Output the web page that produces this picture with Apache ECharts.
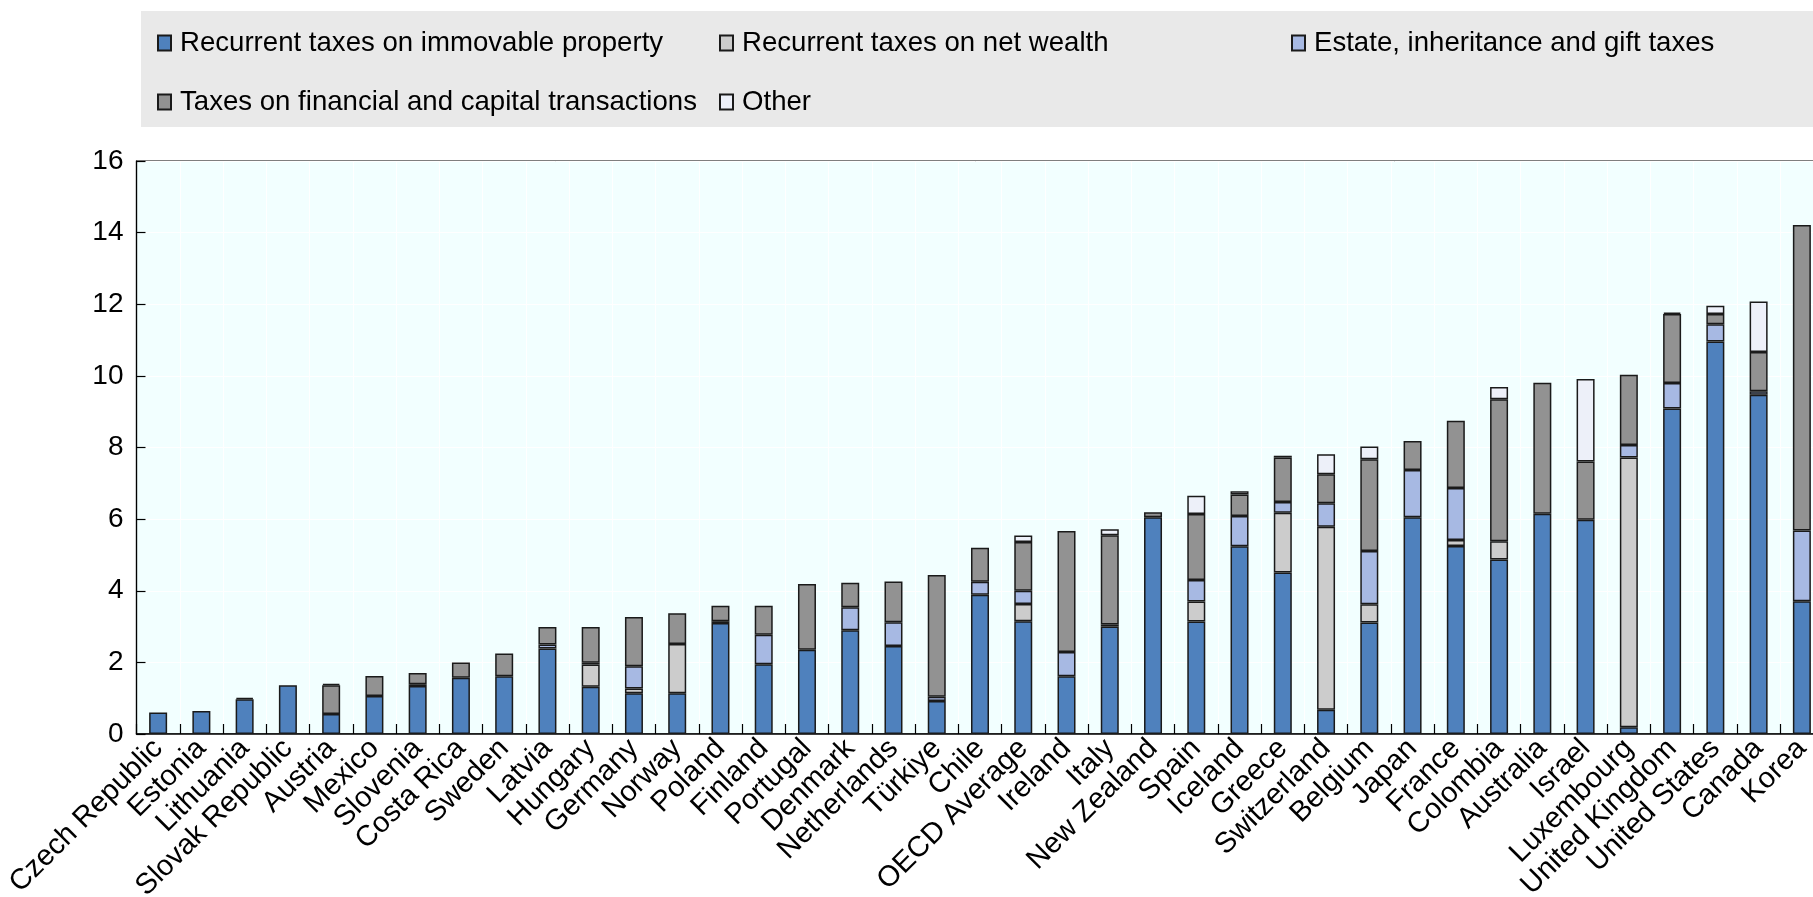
<!DOCTYPE html>
<html>
<head>
<meta charset="utf-8">
<script src="https://cdn.jsdelivr.net/npm/echarts@6/dist/echarts.min.js"></script>
<style>
html,body{margin:0;padding:0;background:#fff;}
#chart{width:1813px;height:897px;}
</style>
</head>
<body>
<div id="chart"></div>
<script>
const categories = ["Czech Republic","Estonia","Lithuania","Slovak Republic","Austria","Mexico","Slovenia","Costa Rica","Sweden","Latvia","Hungary","Germany","Norway","Poland","Finland","Portugal","Denmark","Netherlands","Türkiye","Chile","OECD Average","Ireland","Italy","New Zealand","Spain","Iceland","Greece","Switzerland","Belgium","Japan","France","Colombia","Australia","Israel","Luxembourg","United Kingdom","United States","Canada","Korea"];

const seriesNames = ["Recurrent taxes on immovable property","Recurrent taxes on net wealth","Estate, inheritance and gift taxes","Taxes on financial and capital transactions","Other"];

const immovable = [0.60,0.64,0.97,1.36,0.56,1.06,1.34,1.57,1.61,2.39,1.32,1.14,1.14,3.10,1.95,2.35,2.90,2.46,0.92,3.89,3.15,1.61,3.00,6.05,3.14,5.24,4.51,0.68,3.11,6.05,5.25,4.87,6.15,5.98,0.19,9.09,10.96,9.47,3.71];
const netWealth = [0,0,0,0,0,0,0,0,0,0,0.62,0.13,1.37,0,0,0,0,0,0,0,0.48,0,0,0,0.56,0,1.67,5.11,0.51,0,0.17,0.51,0,0,7.53,0,0,0,0];
const estate = [0,0,0,0,0,0,0.05,0,0,0.11,0.05,0.62,0,0.05,0.82,0,0.64,0.66,0.12,0.36,0.37,0.68,0.06,0,0.60,0.85,0.30,0.65,1.49,1.32,1.45,0,0,0,0.35,0.71,0.48,0.10,1.97];
const transactions = [0,0,0.04,0,0.80,0.56,0.31,0.43,0.64,0.49,1.00,1.38,0.86,0.43,0.81,1.84,0.68,1.14,3.40,0.95,1.36,3.38,2.49,0.14,1.84,0.60,1.24,0.81,2.56,0.81,1.88,3.97,3.66,1.63,1.96,1.93,0.29,1.10,8.53];
const other = [0,0,0,0,0.04,0,0,0,0,0,0,0,0,0,0,0,0,0,0,0,0.18,0,0.17,0,0.51,0.09,0.05,0.56,0.36,0,0,0.34,0,2.30,0,0.04,0.23,1.41,0];

const yTicks = [0,2,4,6,8,10,12,14,16];

const colors = ["#4F81BD","#CCCCCC","#A7B9E3","#929292","#EDF0F9"];
const dataSets = [immovable, netWealth, estate, transactions, other];

const FONT = "'Liberation Sans', Arial, sans-serif";

const chart = echarts.init(document.getElementById('chart'), null, {renderer:'canvas'});

const series = seriesNames.map((name, k) => ({
  name: name,
  type: 'bar',
  stack: 'total',
  barWidth: 18,
  data: dataSets[k].map(v => v === 0 ? '-' : v),
  itemStyle: { color: colors[k], borderColor: '#1a1a1a', borderWidth: 1.5 },
  emphasis: { disabled: true },
  animation: false
}));

const legendPos = [
  {left: 157, top: 29},
  {left: 719, top: 29},
  {left: 1291, top: 29},
  {left: 157, top: 88},
  {left: 719, top: 88}
];

const legends = seriesNames.map((name, k) => ({
  data: [name],
  left: legendPos[k].left,
  top: legendPos[k].top,
  orient: 'horizontal',
  itemWidth: 13,
  itemHeight: 15,
  itemGap: 0,
  selectedMode: false,
  padding: 0,
  icon: 'rect',
  textStyle: { fontFamily: FONT, fontSize: 27.6, color: '#000', padding: [0,0,0,4] }
}));

chart.setOption({
  animation: false,
  backgroundColor: '#ffffff',
  graphic: [{
    type: 'rect',
    shape: { x: 141, y: 11, width: 1700, height: 116 },
    style: { fill: '#E9E9E9' },
    z: -10,
    silent: true
  }],
  legend: legends,
  grid: {
    left: 136.5, top: 161, width: 1687, height: 573,
    containLabel: false,
    outerBoundsMode: 'none',
    show: true, backgroundColor: '#F2FFFF', borderColor: '#000', borderWidth: 1.2
  },
  xAxis: {
    type: 'category',
    data: categories,
    axisLine: { show: true, lineStyle: { color: '#000', width: 1.5 } },
    axisTick: { show: true, inside: true, length: 10, alignWithLabel: false, lineStyle: { color: '#000', width: 1.2 } },
    splitLine: { show: true, lineStyle: { color: '#ffffff', width: 1 } },
    axisLabel: { rotate: 45, interval: 0, margin: 10, fontFamily: FONT, fontSize: 29, color: '#000', hideOverlap: false }
  },
  yAxis: {
    type: 'value',
    min: yTicks[0], max: yTicks[yTicks.length-1], interval: 2,
    axisLine: { show: true, lineStyle: { color: '#000', width: 1.2 } },
    axisTick: { show: true, inside: true, length: 9, lineStyle: { color: '#000', width: 1.2 } },
    splitLine: { show: true, lineStyle: { color: '#ffffff', width: 1 } },
    axisLabel: { margin: 13, fontFamily: FONT, fontSize: 28, color: '#000' }
  },
  series: series
});
</script>
</body>
</html>
